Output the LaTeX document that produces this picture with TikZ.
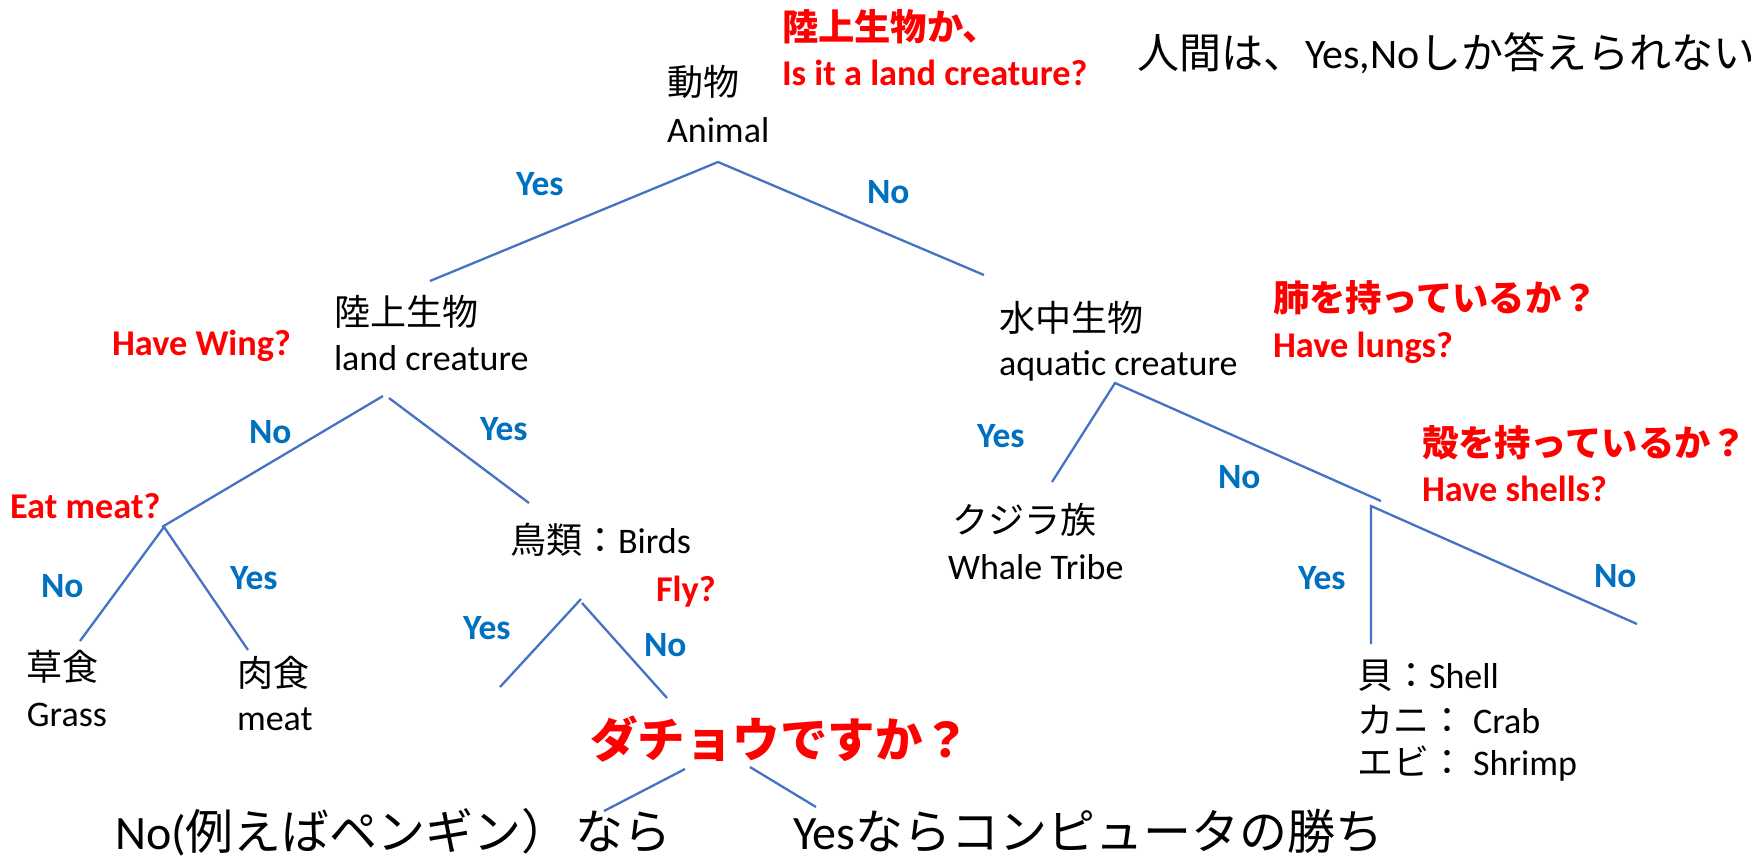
\documentclass[tikz,border=0pt]{standalone}
\usepackage{fontspec}
\setmainfont{Carlito}
\newfontfamily\jpfont{Noto Sans CJK JP}
\newcommand\jpt[1]{{\jpfont #1}}
\definecolor{qred}{RGB}{255,0,0}
\definecolor{qblue}{RGB}{0,112,192}
\definecolor{lblue}{RGB}{68,114,196}
\tikzset{
  lbl/.style={anchor=base west, inner sep=0pt, outer sep=0pt},
  blk/.style={lbl, font=\fontsize{36}{42}\selectfont},
  qlab/.style={lbl, text=qred, font=\fontsize{36.3}{42}\selectfont\bfseries},
  bigq/.style={lbl, text=qred, font=\fontsize{47.5}{54}\selectfont\bfseries},
  ans/.style={lbl, text=qblue, font=\fontsize{35.5}{40}\selectfont\bfseries},
  toptext/.style={lbl, font=\fontsize{42}{48}\selectfont},
  bottext/.style={lbl, font=\fontsize{48}{56}\selectfont},
  edge/.style={draw=lblue, line width=2.3pt}
}
\begin{document}
\begin{tikzpicture}[x=1pt,y=-1pt]
\clip (0,0) rectangle (1751,860);
\fill[white] (0,0) rectangle (1751,860);

% texts
\node[blk] (animalJ) at (667,95) {\jpt{動物}};
\node[blk] (animalE) at (667,142) {Animal};
\node[qlab] (q1J) at (782,40) {\jpt{陸上生物か、}};
\node[qlab] (q1E) at (782,85) {Is it a land creature?};
\node[toptext] (human) at (1137,68) {\jpt{人間は、}Yes,No\jpt{しか答えられない}};
\node[ans] (a1y) at (516,195) {Yes};
\node[ans] (a1n) at (867,203) {No};

\node[blk] (landJ) at (334,325) {\jpt{陸上生物}};
\node[blk] (landE) at (334,370) {land creature};
\node[qlab] (q2) at (112,355) {Have Wing?};
\node[blk] (aquaJ) at (999,331) {\jpt{水中生物}};
\node[blk] (aquaE) at (999,375) {aquatic creature};
\node[qlab] (q3J) at (1273,311) {\jpt{肺を持っているか？}};
\node[qlab] (q3E) at (1273,357) {Have lungs?};

\node[ans] (a2n) at (249,443) {No};
\node[ans] (a2y) at (480,440) {Yes};
\node[qlab] (q4) at (10,518) {Eat meat?};
\node[ans] (a3n) at (41,597) {No};
\node[ans] (a3y) at (230,589) {Yes};
\node[blk] (grassJ) at (27,680) {\jpt{草食}};
\node[blk] (grassE) at (27,726) {Grass};
\node[blk] (meatJ) at (237,686) {\jpt{肉食}};
\node[blk] (meatE) at (237,730) {meat};

\node[blk] (birds) at (510,553) {\jpt{鳥類：}Birds};
\node[qlab] (q5) at (656,601) {Fly?};
\node[ans] (a4y) at (463,639) {Yes};
\node[ans] (a4n) at (644,656) {No};
\node[bigq] (q6) at (590,757) {\jpt{ダチョウですか？}};
\node[bottext] (endno) at (115,849) {No(\jpt{例えばペンギン）}\hspace{6pt}\jpt{なら}};
\node[bottext] (endyes) at (793,849) {Yes\jpt{ならコンピュータの勝ち}};

\node[ans] (a5y) at (977,447) {Yes};
\node[ans] (a5n) at (1218,488) {No};
\node[blk] (whaleJ) at (952,533) {\jpt{クジラ族}};
\node[blk] (whaleE) at (948,579) {Whale Tribe};
\node[qlab] (q7J) at (1422,456) {\jpt{殻を持っているか？}};
\node[qlab] (q7E) at (1422,501) {Have shells?};
\node[ans] (a6y) at (1298,589) {Yes};
\node[ans] (a6n) at (1594,587) {No};
\node[blk] (shell) at (1357,688) {\jpt{貝：}Shell};
\node[blk] (crab) at (1357,733) {\jpt{カニ：} Crab};
\node[blk] (shrimp) at (1357,775) {\jpt{エビ：} Shrimp};

% branch points
\coordinate (pA) at (718,162);
\coordinate (pAl) at (430,281);
\coordinate (pAr) at (984,275);
\coordinate (pL1) at (383,396);
\coordinate (pL2) at (389,398);
\coordinate (pLl) at (162,527);
\coordinate (pLr) at (529,503);
\coordinate (pE) at (164,527);
\coordinate (pEl) at (80,641);
\coordinate (pEr) at (248,650);
\coordinate (pF1) at (581,599);
\coordinate (pF2) at (582,603);
\coordinate (pFl) at (500,687);
\coordinate (pFr) at (667,698);
\coordinate (pO1) at (685,769);
\coordinate (pO2) at (750,767);
\coordinate (pOl) at (604,811);
\coordinate (pOr) at (816,807);
\coordinate (pW) at (1115,383);
\coordinate (pWl) at (1052,482);
\coordinate (pWr) at (1381,501);
\coordinate (pS) at (1371,506);
\coordinate (pSd) at (1371,644);
\coordinate (pSr) at (1637,624);

% connectors
\draw[edge] (pAl) -- (pA) -- (pAr);
\draw[edge] (pL1) -- (pLl);
\draw[edge] (pL2) -- (pLr);
\draw[edge] (pEl) -- (pE) -- (pEr);
\draw[edge] (pF1) -- (pFl);
\draw[edge] (pF2) -- (pFr);
\draw[edge] (pO1) -- (pOl);
\draw[edge] (pO2) -- (pOr);
\draw[edge] (pWl) -- (pW) -- (pWr);
\draw[edge] (pSd) -- (pS) -- (pSr);
\end{tikzpicture}
\end{document}
